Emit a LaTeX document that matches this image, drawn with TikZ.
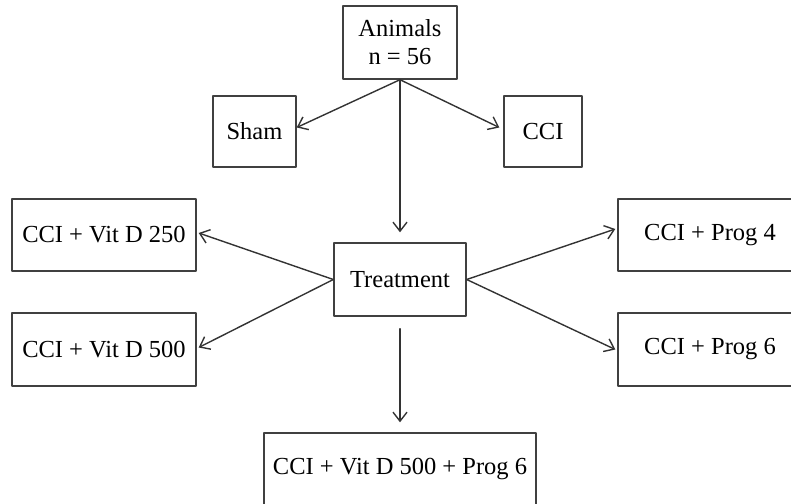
\documentclass[tikz,border=0pt]{standalone}
\usepackage{fontspec}
\setmainfont{Liberation Serif}
\usetikzlibrary{arrows.meta}

\begin{document}
\begin{tikzpicture}[line cap=round,line join=round,x=0.5pt,y=-0.5pt,
    box/.style={draw=black!75,line width=0.7pt,align=center,inner sep=0pt,
        font=\fontsize{12.25}{14}\selectfont},
    arr/.style={draw=black!80,line width=0.7pt,-{Straight Barb[length=4.5pt,width=7pt]}}]
    \useasboundingbox (0,0) rectangle (791,503);
    \clip (0,0) rectangle (791,503);
    \node[box,minimum width=57pt,minimum height=36.5pt] (animals) at (400,42.5) {Animals\\n = 56};
    \node[box,minimum width=41.5pt,minimum height=35.5pt] (sham) at (254.5,131.5) {Sham};
    \node[box,minimum width=39pt,minimum height=35.5pt] (cci) at (543,131.5) {CCI};
    \node[box,minimum width=66pt,minimum height=36.5pt] (treat) at (400,279.5) {Treatment};
    \node[box,minimum width=92pt,minimum height=36pt] (vitA) at (104,235) {CCI + Vit D 250};
    \node[box,minimum width=92pt,minimum height=36.5pt] (vitB) at (104,349.5) {CCI + Vit D 500};
    \node[box,minimum width=92pt,minimum height=36pt] (progA) at (710,235) {CCI + Prog 4};
    \node[box,minimum width=92pt,minimum height=36.5pt] (progB) at (710,349.5) {CCI + Prog 6};
    \node[box,minimum width=136pt,minimum height=36pt] (combo) at (400,469) {CCI + Vit D 500 + Prog 6};
    \draw[arr] (animals.south) -- ([yshift=2pt]sham.east);
    \draw[arr] (animals.south) -- ([xshift=-2pt,yshift=2pt]cci.west);
    \draw[arr,shorten >=5pt] (animals.south) -- (treat.north);
    \draw[arr] (treat.west) -- ([xshift=1pt,yshift=1pt]vitA.east);
    \draw[arr] (treat.west) -- ([xshift=1pt,yshift=1pt]vitB.east);
    \draw[arr] (treat.east) -- ([xshift=-1pt,yshift=3pt]progA.west);
    \draw[arr] (treat.east) -- ([xshift=-1pt]progB.west);
    \draw[arr,shorten <=6pt,shorten >=5pt] (treat.south) -- (combo.north);
\end{tikzpicture}
\end{document}
